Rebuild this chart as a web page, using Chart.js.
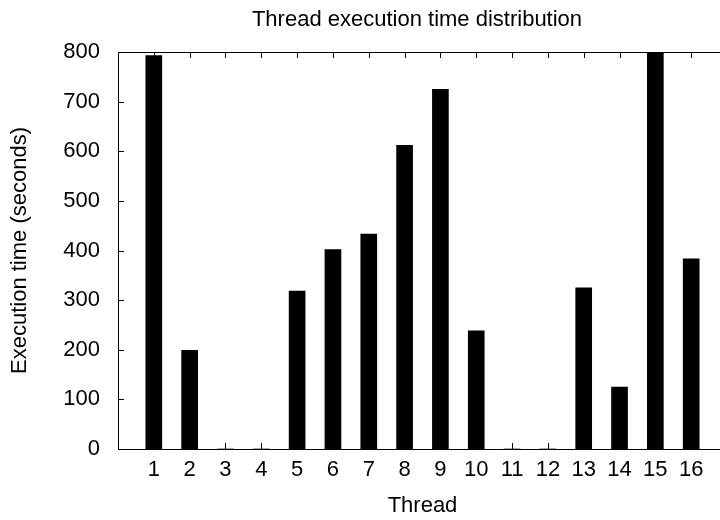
<!DOCTYPE html>
<html>
<head>
<meta charset="utf-8">
<title>Thread execution time distribution</title>
<script src="https://cdn.jsdelivr.net/npm/chart.js@4.4.0/dist/chart.umd.min.js"></script>
<style>
  html, body { margin: 0; padding: 0; overflow: hidden; background: #fff; width: 720px; height: 520px; }
  canvas { display: block; }
</style>
</head>
<body>
<canvas id="chart" width="740" height="520" style="width:740px;height:520px"></canvas>
<script>
// Data
const chartTitle = 'Thread execution time distribution';
const threads = [1, 2, 3, 4, 5, 6, 7, 8, 9, 10, 11, 12, 13, 14, 15, 16];
const execTimes = [793, 199, 0, 0, 318, 402, 433, 612, 725, 238, 0, 0, 325, 125, 805, 383];
const yTicks = [0, 100, 200, 300, 400, 500, 600, 700, 800];

const FONT = "'Liberation Sans', Arial, Helvetica, sans-serif";
const FONT_SIZE = 22;
const TICK_LEN = 6;

// gnuplot-like frame: border with inward ticks on left, bottom and top
const framePlugin = {
  id: 'frame',
  afterDatasetsDraw(chart) {
    const ctx = chart.ctx;
    const a = chart.chartArea;
    const xScale = chart.scales.x;
    const yScale = chart.scales.y;
    const left = Math.round(a.left);
    const right = Math.round(a.right);
    const top = Math.round(a.top);
    const bottom = Math.round(a.bottom);
    ctx.save();
    ctx.fillStyle = '#000';
    // y ticks, left and mirrored right
    yTicks.forEach(v => {
      const y = Math.round(yScale.getPixelForValue(v));
      ctx.fillRect(left, y, TICK_LEN, 1);
      ctx.fillRect(right - TICK_LEN, y, TICK_LEN, 1);
    });
    // x ticks, bottom and mirrored top
    threads.forEach(t => {
      const x = Math.round(xScale.getPixelForValue(t));
      ctx.fillRect(x, bottom - TICK_LEN, 1, TICK_LEN);
      ctx.fillRect(x, top, 1, TICK_LEN);
    });
    // border
    ctx.fillRect(left, top, right - left + 1, 1);
    ctx.fillRect(left, bottom, right - left + 1, 1);
    ctx.fillRect(left, top, 1, bottom - top + 1);
    ctx.fillRect(right, top, 1, bottom - top + 1);
    ctx.restore();
  },
  afterDraw(chart) {
    const ctx = chart.ctx;
    ctx.save();
    ctx.fillStyle = '#000';
    ctx.font = FONT_SIZE + 'px ' + FONT;
    ctx.textAlign = 'center';
    ctx.textBaseline = 'middle';
    ctx.fillText(chartTitle, 417, 20);
    ctx.restore();
  }
};

const ctx = document.getElementById('chart').getContext('2d');
new Chart(ctx, {
  type: 'bar',
  data: {
    datasets: [{
      label: 'Execution time',
      data: threads.map((t, i) => ({ x: t, y: execTimes[i] })),
      backgroundColor: '#000',
      borderWidth: 0,
      barThickness: 16
    }]
  },
  options: {
    responsive: false,
    animation: false,
    layout: { padding: { top: 52, left: 0, right: 13, bottom: 0 } },
    plugins: {
      legend: { display: false },
      title: { display: false },
      tooltip: { enabled: false }
    },
    scales: {
      x: {
        type: 'linear',
        offset: false,
        min: 0,
        max: 17,
        grid: { display: false, drawTicks: false, offset: false },
        border: { display: false },
        afterBuildTicks(scale) {
          scale.ticks = threads.map(v => ({ value: v }));
        },
        afterFit(scale) { scale.height = 71; },
        ticks: {
          color: '#000',
          padding: 8,
          maxRotation: 0,
          autoSkip: false,
          font: { family: FONT, size: FONT_SIZE }
        },
        title: {
          display: true,
          text: 'Thread',
          color: '#000',
          padding: { top: 0, bottom: 1 },
          font: { family: FONT, size: FONT_SIZE }
        }
      },
      y: {
        min: 0,
        max: 800,
        grid: { display: false, drawTicks: false },
        border: { display: false },
        afterBuildTicks(scale) {
          scale.ticks = yTicks.map(v => ({ value: v }));
        },
        afterFit(scale) { scale.width = 118; },
        ticks: {
          color: '#000',
          padding: 18,
          font: { family: FONT, size: FONT_SIZE }
        },
        title: {
          display: true,
          text: 'Execution time (seconds)',
          color: '#000',
          padding: { top: 7, bottom: 0 },
          font: { family: FONT, size: FONT_SIZE }
        }
      }
    }
  },
  plugins: [framePlugin]
});
</script>
</body>
</html>
